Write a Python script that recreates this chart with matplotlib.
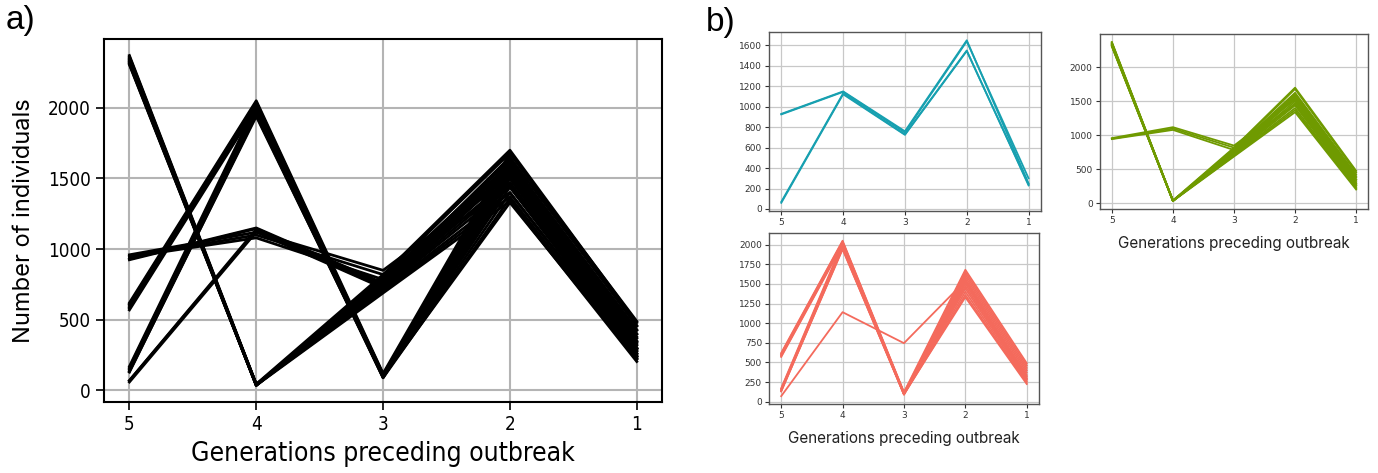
import matplotlib
matplotlib.use("Agg")
from matplotlib import pyplot as plt

# generations preceding outbreak (plotted left to right: 5 -> 1)
generations = ["5", "4", "3", "2", "1"]

# cluster 1 (cyan)
cyan_lines = [
    [930, 1150, 760, 1650, 250],
    [925, 1145, 748, 1640, 300],
    [70, 1130, 730, 1550, 230],
    [60, 1122, 725, 1545, 240],
]

# cluster 2 (green)
green_lines = [
    [2370, 45, 820, 1700, 480],
    [2362, 40, 805, 1680, 455],
    [2356, 35, 792, 1625, 425],
    [2350, 42, 782, 1600, 400],
    [2345, 38, 770, 1580, 380],
    [2340, 40, 760, 1560, 350],
    [2335, 36, 750, 1540, 330],
    [2330, 44, 740, 1500, 300],
    [2325, 40, 730, 1470, 280],
    [2320, 38, 720, 1440, 260],
    [2315, 42, 710, 1400, 240],
    [2310, 40, 700, 1370, 220],
    [2305, 37, 690, 1340, 205],
    [960, 1120, 850, 1520, 300],
    [950, 1100, 820, 1450, 265],
    [945, 1080, 785, 1600, 350],
]

# cluster 3 (red)
red_lines = [
    [620, 2050, 120, 1680, 490],
    [610, 2040, 110, 1650, 460],
    [600, 2030, 105, 1620, 430],
    [590, 2020, 100, 1590, 400],
    [580, 2010, 95, 1560, 370],
    [570, 2000, 90, 1530, 340],
    [170, 2020, 115, 1500, 320],
    [160, 2000, 110, 1470, 300],
    [150, 1980, 100, 1440, 280],
    [140, 1960, 95, 1400, 260],
    [130, 1950, 90, 1360, 240],
    [135, 1940, 100, 1330, 225],
    [70, 1140, 745, 1540, 290],
]

cyan_ticks = [0, 200, 400, 600, 800, 1000, 1200, 1400, 1600]
green_ticks = [0, 500, 1000, 1500, 2000]
red_ticks = [0, 250, 500, 750, 1000, 1250, 1500, 1750, 2000]
all_ticks = [0, 500, 1000, 1500, 2000]

xpos = list(range(len(generations)))

fig = plt.figure(figsize=(13.78, 4.73), dpi=100)

# ---- panel a ----
ax = fig.add_axes([0.0755, 0.150, 0.405, 0.7675])
for series in cyan_lines + green_lines + red_lines:
    ax.plot(xpos, series, color="black", lw=2.0)
ax.set_xticks(xpos)
ax.set_xticklabels(generations)
ax.set_yticks(all_ticks)
ax.grid(True, color="#b4b4b4", lw=1.5)
ax.set_axisbelow(True)
for s in ax.spines.values():
    s.set_linewidth(1.5)
ax.tick_params(labelsize=13.5, length=6, width=1.2)
for lab in ax.get_xticklabels() + ax.get_yticklabels():
    lab.set_fontstretch("condensed")
ax.set_xlabel("Generations preceding outbreak", fontsize=19,
              fontstretch="condensed", labelpad=5)
ax.set_ylabel("Number of individuals", fontsize=17, family="Inter", labelpad=9)

fig.text(0.004, 0.99, "a)", fontsize=24, family="Liberation Sans", va="top")
fig.text(0.512, 0.985, "b)", fontsize=24, family="Liberation Sans", va="top")


def small_panel(rect, lines, color, yticks, xlabel):
    a = fig.add_axes(rect)
    for series in lines:
        a.plot(xpos, series, color=color, lw=1.3)
    a.set_xticks(xpos)
    a.set_xticklabels(generations)
    a.set_yticks(yticks)
    a.grid(True, color="#c8c8c8", lw=0.9)
    a.set_axisbelow(True)
    for s in a.spines.values():
        s.set_color("#555555")
        s.set_linewidth(1.0)
    a.tick_params(labelsize=6.5, length=3, width=0.8, colors="#333333", pad=2)
    if xlabel:
        a.set_xlabel("Generations preceding outbreak", fontsize=11,
                     family="Inter", color="#222222", labelpad=8)
    return a


small_panel([0.558, 0.554, 0.1974, 0.378], cyan_lines, "#17a0b0", cyan_ticks, False)
small_panel([0.798, 0.558, 0.195, 0.370], green_lines, "#6f9a00", green_ticks, True)
small_panel([0.558, 0.146, 0.196, 0.3615], red_lines, "#f46a5c", red_ticks, True)

fig.savefig("out.png", dpi=100)
